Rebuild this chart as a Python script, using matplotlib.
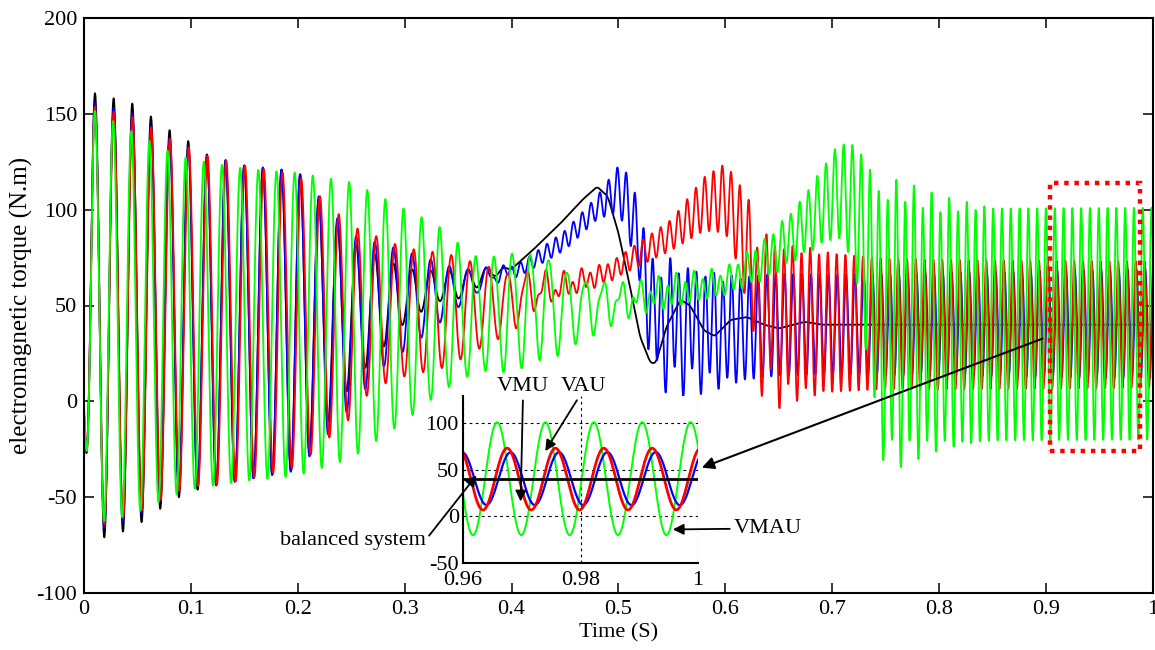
import matplotlib.pyplot as plt
import numpy as np
from matplotlib.patches import Rectangle

plt.rcParams['font.family'] = ['Liberation Serif', 'DejaVu Serif']
plt.rcParams['axes.unicode_minus'] = False

# startup oscillation (Hz) for each case, and time of its first peak (s)
f_start = {"balanced": 57.3, "VMU": 57.3, "VAU": 57.0, "VMAU": 58.9}
t_first_peak = 0.0103
# double supply frequency ripple (Hz) and one peak time per case (s)
f_ripple = 121.5
ripple_peak = {"balanced": 0.0, "VMU": 0.9681, "VAU": 0.9675, "VMAU": 0.9658}

# balanced system: mean torque, startup swing amplitude, ripple amplitude
bal_mean_t = [0, 0.045, 0.08, 0.1, 0.114, 0.15, 0.2, 0.25, 0.3, 0.33, 0.355, 0.37, 0.39, 0.4,
              0.42, 0.446, 0.466, 0.48, 0.49, 0.5, 0.51, 0.52, 0.53, 0.535, 0.545, 0.558,
              0.567, 0.58, 0.59, 0.605, 0.62, 0.636, 0.65, 0.674, 0.69, 1.0]
bal_mean = [44, 44.5, 44.5, 44, 42, 41, 42, 46, 55, 60, 61, 65, 68.6, 69,
            79, 93, 105, 112, 107, 88, 62, 34, 20, 20, 39, 53,
            50, 37, 34, 42.5, 44, 40, 38, 41.5, 40, 40]
bal_osc_t = [0, 0.008, 0.045, 0.063, 0.08, 0.1, 0.114, 0.15, 0.2, 0.25, 0.3, 0.33, 0.355, 0.38, 0.4, 1.0]
bal_osc = [56, 117, 111, 104, 97, 91, 87, 82, 78, 37, 14, 8, 7, 3, 0, 0]
bal_rip_t = [0, 1.0]
bal_rip = [0, 0]

# VMU
vmu_mean_t = [0, 0.045, 0.1, 0.114, 0.15, 0.2, 0.25, 0.28, 0.32, 0.35, 0.38, 0.41, 0.45,
              0.48, 0.5, 0.51, 0.52, 0.53, 0.55, 0.6, 0.65, 1.0]
vmu_mean = [44, 44.5, 44, 42, 41, 42, 42, 50, 55, 59, 65, 69.5, 84,
            101, 111, 101, 82, 45, 40, 37, 40, 40.5]
vmu_osc_t = [0, 0.008, 0.045, 0.08, 0.1, 0.15, 0.2, 0.25, 0.28, 0.32, 0.35, 0.38, 0.41,
             0.525, 0.54, 0.58, 0.62, 1.0]
vmu_osc = [56, 112, 106, 93, 88, 82, 78, 45, 32, 20, 10, 4, 0,
           0, 10, 6, 0, 0]
vmu_rip_t = [0, 0.36, 0.4, 0.45, 0.48, 0.5, 0.51, 0.52, 0.53, 0.55, 0.6, 0.7, 1.0]
vmu_rip = [0, 0, 3, 5, 6, 12, 17, 19, 26, 30, 27, 26, 28.5]

# VAU
vau_mean_t = [0, 0.045, 0.1, 0.114, 0.15, 0.2, 0.25, 0.27, 0.3, 0.34, 0.37, 0.4, 0.42, 0.445,
              0.49, 0.52, 0.55, 0.58, 0.6, 0.61, 0.62, 0.63, 0.65, 0.7, 0.8, 1.0]
vau_mean = [44, 44.5, 44, 42, 41, 42, 41.5, 47, 46.5, 47.5, 49.5, 52, 57.5, 59,
            67, 77, 87, 103, 106, 95, 80, 50, 42, 41, 40, 40]
vau_osc_t = [0, 0.008, 0.045, 0.08, 0.1, 0.15, 0.2, 0.25, 0.27, 0.3, 0.34, 0.37, 0.4, 0.42,
             0.44, 0.47, 0.5, 0.615, 0.635, 0.66, 0.7, 1.0]
vau_osc = [56, 110, 104, 93, 88, 82, 76, 50, 40, 33.5, 29.5, 22, 15, 9.5,
           5, 2, 0, 0, 12, 5, 0, 0]
vau_rip_t = [0, 0.38, 0.43, 0.5, 0.55, 0.58, 0.6, 0.61, 0.625, 0.64, 0.66, 0.7, 0.75, 1.0]
vau_rip = [0, 0, 4, 5, 8, 14, 18, 21, 30, 38, 38, 36, 34, 33]

# VMAU
vmau_mean_t = [0, 0.01, 0.045, 0.08, 0.15, 0.2, 0.25, 0.3, 0.33, 0.37, 0.4, 0.425, 0.46, 0.5,
               0.55, 0.6, 0.64, 0.67, 0.705, 0.72, 0.73, 0.745, 0.8, 1.0]
vmau_mean = [44, 44, 40.5, 40, 40.5, 41, 42, 43.5, 46.5, 45, 47, 50.5, 48.5, 52,
             57, 62, 75, 90, 110, 104, 80, 42, 40, 40.5]
vmau_osc_t = [0, 0.008, 0.045, 0.08, 0.1, 0.15, 0.2, 0.25, 0.3, 0.33, 0.35, 0.37, 0.4, 0.425,
              0.443, 0.46, 0.48, 0.5, 0.52, 0.55, 0.6, 0.73, 0.75, 0.8, 0.85, 1.0]
vmau_osc = [56, 108, 100, 90, 86, 81.5, 79, 72, 55.5, 44.5, 36, 29, 31, 27.5,
            24, 16.5, 12.5, 8, 5, 3, 2, 0, 10, 5, 0, 0]
vmau_rip_t = [0, 0.45, 0.5, 0.55, 0.6, 0.64, 0.67, 0.7, 0.72, 0.735, 0.755, 0.8, 0.85, 1.0]
vmau_rip = [0, 2, 4, 7, 6, 10, 14, 22, 30, 55, 70, 63, 60.5, 60.5]

x_ticks = [0, 0.1, 0.2, 0.3, 0.4, 0.5, 0.6, 0.7, 0.8, 0.9, 1]
x_labels = ["0", "0.1", "0.2", "0.3", "0.4", "0.5", "0.6", "0.7", "0.8", "0.9", "1"]
y_ticks = [-100, -50, 0, 50, 100, 150, 200]
zoom_x_ticks = [0.96, 0.98, 1.0]
zoom_x_labels = ["0.96", "0.98", "1"]
zoom_y_ticks = [-50, 0, 50, 100]

t = np.linspace(0, 1, 20001)


def smooth(y, w):
    yp = np.pad(y, (w // 2, w - 1 - w // 2), mode="edge")
    return np.convolve(yp, np.ones(w) / w, mode="valid")


def torque(name, mt, mv, ot, ov, rt, rv):
    m = smooth(np.interp(t, mt, mv), 81)
    a = smooth(np.interp(t, ot, ov), 41)
    r = smooth(np.interp(t, rt, rv), 41)
    return (m + a * np.cos(2 * np.pi * f_start[name] * (t - t_first_peak))
            + r * np.cos(2 * np.pi * f_ripple * (t - ripple_peak[name])))


bal = torque("balanced", bal_mean_t, bal_mean, bal_osc_t, bal_osc, bal_rip_t, bal_rip)
vmu = torque("VMU", vmu_mean_t, vmu_mean, vmu_osc_t, vmu_osc, vmu_rip_t, vmu_rip)
vau = torque("VAU", vau_mean_t, vau_mean, vau_osc_t, vau_osc, vau_rip_t, vau_rip)
vmau = torque("VMAU", vmau_mean_t, vmau_mean, vmau_osc_t, vmau_osc, vmau_rip_t, vmau_rip)

green = (0, 1, 0)

fig = plt.figure(figsize=(11.55, 6.5), dpi=100)
ax = fig.add_axes([0.0727, 0.0877, 0.9255, 0.8846])
ax.plot(t, bal, color="k", lw=1.3)
ax.plot(t, vmu, color="b", lw=1.3)
ax.plot(t, vau, color="r", lw=1.3)
ax.plot(t, vmau, color=green, lw=1.3)
ax.set_xlim(0, 1)
ax.set_ylim(-100, 200)
ax.set_xticks(x_ticks)
ax.set_xticklabels(x_labels)
ax.set_yticks(y_ticks)
ax.tick_params(direction="in", top=True, right=True, length=7, width=1.1,
               labelsize=16, pad=5)
for s in ax.spines.values():
    s.set_linewidth(1.5)
ax.set_xlabel("Time (S)", fontsize=16, labelpad=3)
ax.set_ylabel("electromagnetic torque (N.m)", fontsize=18, labelpad=2)

# dotted frame around the zoomed window
ax.add_patch(Rectangle((0.9036, -25.8), 0.0842, 139.8, fill=False, edgecolor="r",
                       lw=3.2, linestyle=(0, (1, 1.3)), zorder=5))
ax.annotate("", xy=(0.578, -34.6), xytext=(0.8966, 32.7),
            arrowprops=dict(arrowstyle="-|>", color="k", lw=1.5, mutation_scale=18,
                            shrinkA=0, shrinkB=0))

# zoomed view of the last 40 ms
axz = fig.add_axes([0.4009, 0.1338, 0.2035, 0.2569])
sel = t >= 0.955
axz.plot(t[sel], vmau[sel], color=green, lw=1.4)
axz.plot(t[sel], vmu[sel], color="b", lw=1.6)
axz.plot(t[sel], vau[sel], color="r", lw=2.0)
axz.plot(t[sel], bal[sel], color="k", lw=2.0)
axz.set_xlim(0.96, 1.0)
axz.set_ylim(-50, 129)
axz.set_xticks(zoom_x_ticks)
axz.set_xticklabels(zoom_x_labels)
axz.set_yticks(zoom_y_ticks)
axz.tick_params(axis="x", length=0, labelsize=16, pad=6)
axz.tick_params(axis="y", length=0, labelsize=16, pad=3)
axz.grid(True, color="k", lw=0.8, linestyle=(0, (2.5, 3)))
axz.spines["top"].set_visible(False)
axz.spines["right"].set_visible(False)
axz.spines["left"].set_linewidth(1.5)
axz.spines["bottom"].set_linewidth(1.5)

arrow = dict(arrowstyle="-|>", color="k", lw=1.3, mutation_scale=16, shrinkA=1, shrinkB=0)
axz.annotate("VMU", xy=(0.9698, 16), textcoords=ax.transData, xytext=(0.4107, 7.6),
             ha="center", va="center", fontsize=16, annotation_clip=False,
             arrowprops=dict(arrow, relpos=(0.5, 0)))
axz.annotate("VAU", xy=(0.9740, 70), textcoords=ax.transData, xytext=(0.4677, 7.6),
             ha="center", va="center", fontsize=16, annotation_clip=False,
             arrowprops=dict(arrow, relpos=(0.4, 0)))
axz.annotate("balanced system", xy=(0.9623, 44), textcoords=ax.transData,
             xytext=(0.2512, -72.5), ha="center", va="center", fontsize=16,
             annotation_clip=False, arrowprops=dict(arrow, relpos=(1, 0.5)))
axz.annotate("VMAU", xy=(0.9957, -14), textcoords=ax.transData, xytext=(0.6399, -66.5),
             ha="center", va="center", fontsize=16, annotation_clip=False,
             arrowprops=dict(arrow, relpos=(0, 0.5)))

fig.savefig("out.png", dpi=100)
